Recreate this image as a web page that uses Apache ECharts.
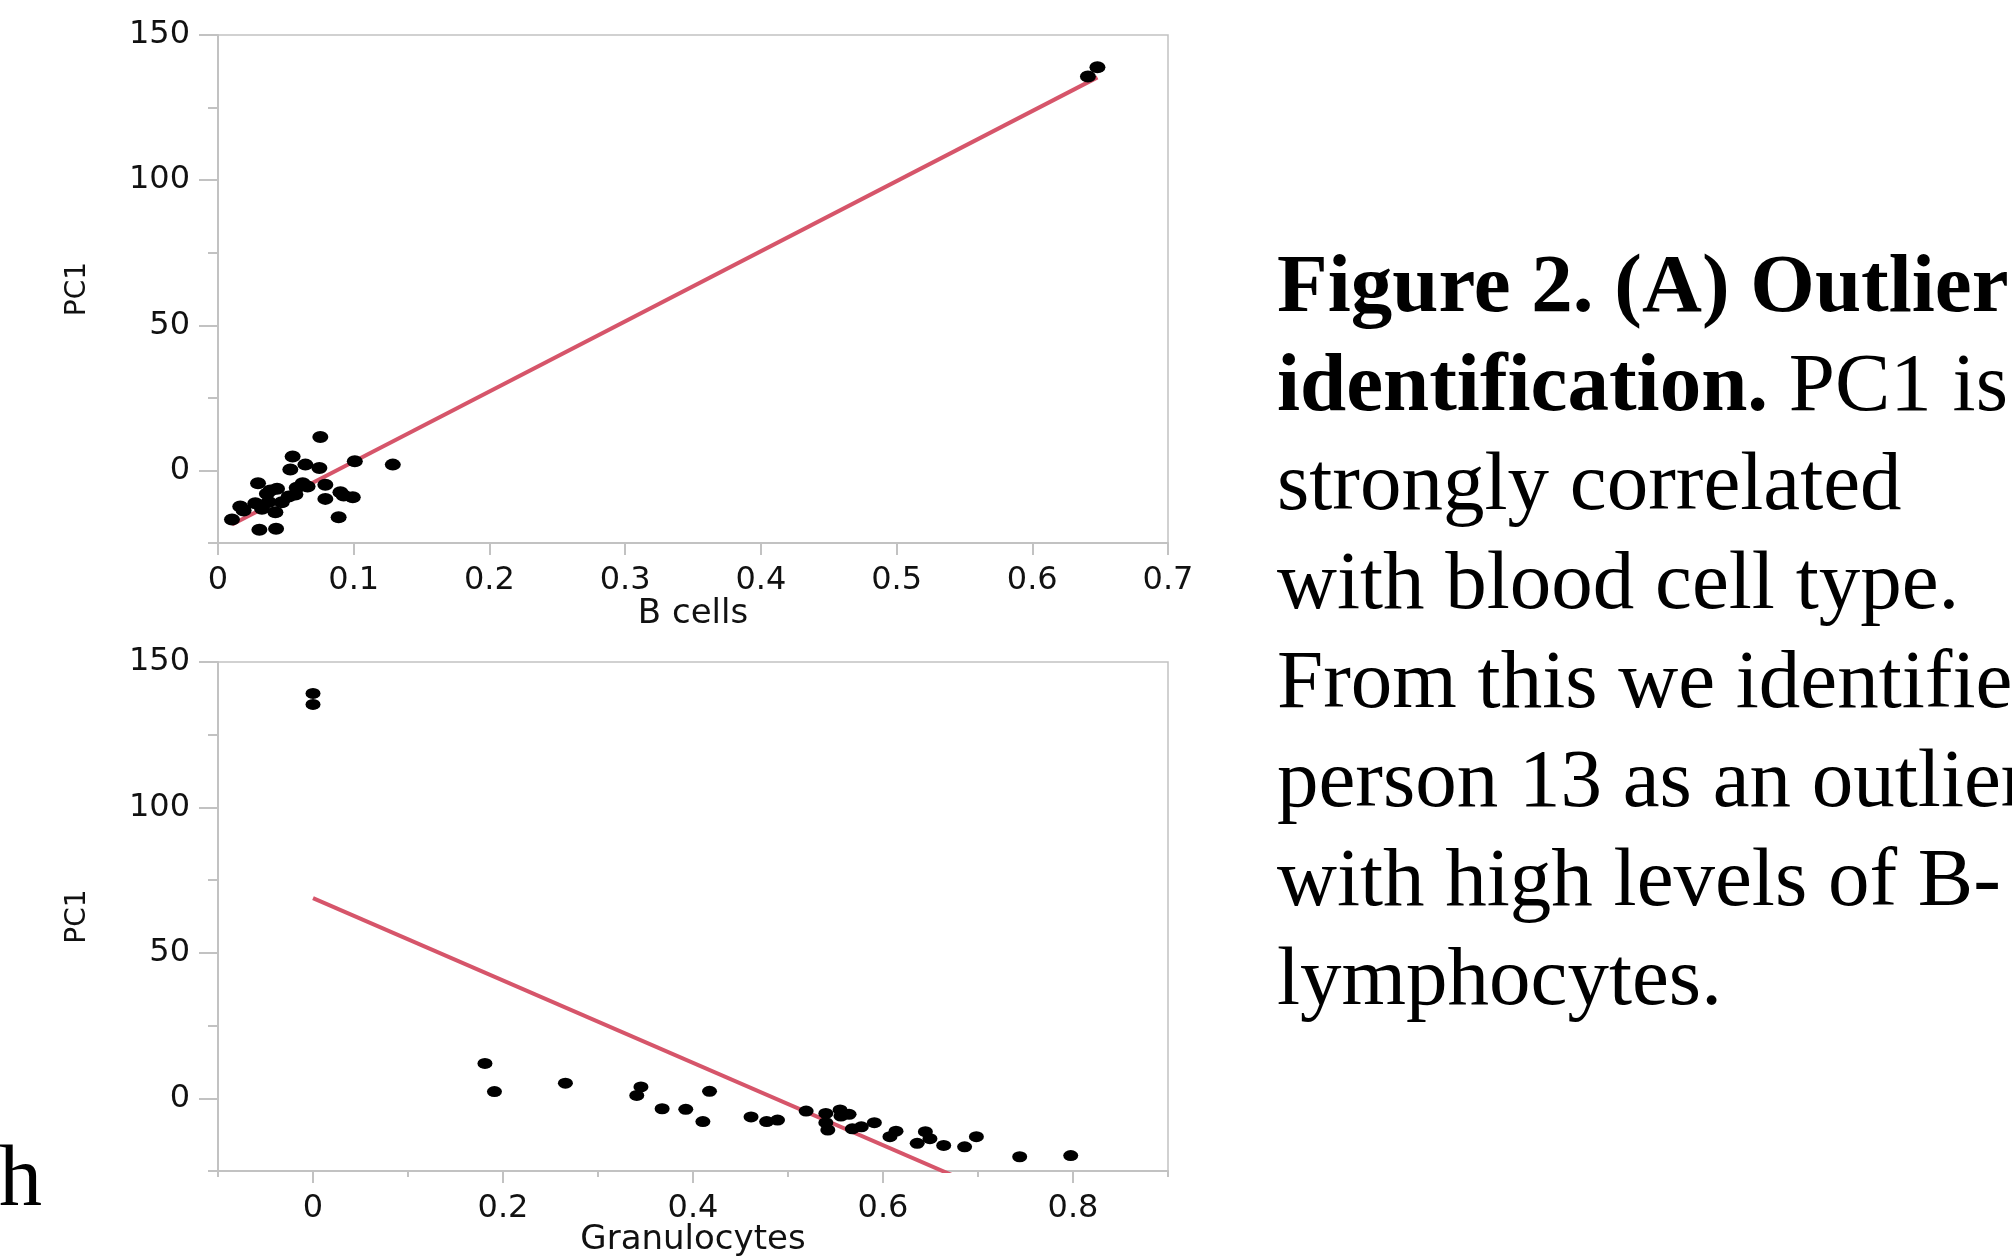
<!DOCTYPE html>
<html>
<head>
<meta charset="utf-8">
<script src="https://cdn.jsdelivr.net/npm/echarts@6/dist/echarts.min.js"></script>
<style>
html,body{margin:0;padding:0;background:#fff;}
#chart{width:2012px;height:1259px;}
</style>
</head>
<body>
<div id="chart"></div>
<script>
// ---------- data ----------
const bCellsX = [0.0754,0.055,0.0533,0.0644,0.0747,0.1008,0.1288,0.0295,0.0386,0.0435,0.0624,0.057,0.0521,0.0791,0.0791,0.0902,0.0993,0.0926,0.0164,0.0275,0.0373,0.0423,0.0324,0.0103,0.0305,0.0428,0.0889,0.0189,0.058,0.047,0.036,0.066,0.641,0.648];
const bCellsPC1 = [11.5,4.8,0.3,2.0,0.8,3.2,2.0,-4.4,-6.9,-6.3,-4.4,-8.3,-9.0,-4.9,-9.8,-7.5,-9.2,-8.6,-12.4,-11.3,-10.9,-14.4,-13.2,-16.9,-20.4,-20.1,-16.1,-13.8,-6.0,-11.0,-8.0,-5.5,135.7,138.9];
const granX = [0.181,0.191,0.2657,0.3452,0.3408,0.4174,0.3675,0.3924,0.4104,0.4611,0.4775,0.489,0.5191,0.5398,0.5548,0.5643,0.5557,0.5398,0.5419,0.5677,0.5772,0.5909,0.6137,0.6073,0.6446,0.6494,0.636,0.6639,0.6859,0.6983,0.7439,0.7976,0.0,0.0];
const granPC1 = [12.0,2.3,5.2,3.9,1.0,2.4,-3.6,-3.8,-8.0,-6.4,-8.0,-7.5,-4.4,-5.2,-4.0,-5.5,-6.1,-8.4,-10.9,-10.5,-9.8,-8.4,-11.3,-13.2,-11.5,-13.9,-15.5,-16.2,-16.7,-13.2,-20.1,-19.7,139.2,135.4];
const fitBX = [0.0103, 0.648];
const fitBY = [-18.6, 135.4];
const fitGX = [0.0, 0.7976];
const fitGY = [68.8, -44.1];
const yMajorTicks = [0, 50, 100, 150];
const yMinorTicks = [-25, 25, 75, 125];
const xTopTicks = [0, 0.1, 0.2, 0.3, 0.4, 0.5, 0.6, 0.7];
const xBotMajorTicks = [0, 0.2, 0.4, 0.6, 0.8];
const xBotMinorTicks = [-0.1, 0.1, 0.3, 0.5, 0.7, 0.9];
const captionLines = [
  '{b|Figure 2. (A) Outlier}',
  '{b|identification.}{r| PC1 is}',
  '{r|strongly correlated}',
  '{r|with blood cell type.}',
  '{r|From this we identified}',
  '{r|person 13 as an outlier}',
  '{r|with high levels of B-}',
  '{r|lymphocytes.}'
];

// ---------- styling helpers ----------
const FRAME = '#c2c2c2';
const LABEL_FONT = 'DejaVu Sans';
const LABEL_SIZE = 32;
const TEXT_COLOR = '#111111';
const FIT_COLOR = '#d6556a';

function xAxisPair(gridIndex, min, max, majors, minors, name, nameGap) {
  const main = {
    type: 'value', gridIndex: gridIndex, min: min, max: max, position: 'bottom',
    name: name, nameLocation: 'middle', nameGap: nameGap, nameMoveOverlap: false,
    nameTextStyle: { fontFamily: LABEL_FONT, fontSize: 34, color: TEXT_COLOR },
    axisLine: { show: true, onZero: false, lineStyle: { color: FRAME, width: 2 } },
    axisTick: { show: true, inside: false, length: 12, customValues: majors, lineStyle: { color: FRAME, width: 2 } },
    axisLabel: { show: true, margin: 22, customValues: majors, fontFamily: LABEL_FONT, fontSize: LABEL_SIZE, color: TEXT_COLOR,
      formatter: v => String(Math.round(v * 10) / 10) },
    splitLine: { show: false }
  };
  const axes = [main];
  if (minors) {
    axes.push({
      type: 'value', gridIndex: gridIndex, min: min, max: max, position: 'bottom',
      axisLine: { show: false, onZero: false },
      axisTick: { show: true, inside: false, length: 6, customValues: minors, lineStyle: { color: FRAME, width: 2 } },
      axisLabel: { show: false },
      splitLine: { show: false }
    });
  }
  return axes;
}
function yAxisPair(gridIndex) {
  return [{
    type: 'value', gridIndex: gridIndex, min: -25, max: 150, position: 'left',
    name: 'PC1', nameLocation: 'middle', nameGap: 126, nameRotate: 90, nameMoveOverlap: false,
    nameTextStyle: { fontFamily: LABEL_FONT, fontSize: 28, color: TEXT_COLOR },
    axisLine: { show: true, onZero: false, lineStyle: { color: FRAME, width: 2 } },
    axisTick: { show: true, inside: false, length: 19, customValues: yMajorTicks, lineStyle: { color: FRAME, width: 2 } },
    axisLabel: { show: true, margin: 28, customValues: yMajorTicks, fontFamily: LABEL_FONT, fontSize: LABEL_SIZE, color: TEXT_COLOR },
    splitLine: { show: false }
  }, {
    type: 'value', gridIndex: gridIndex, min: -25, max: 150, position: 'left',
    axisLine: { show: false, onZero: false },
    axisTick: { show: true, inside: false, length: 10, customValues: yMinorTicks, lineStyle: { color: FRAME, width: 2 } },
    axisLabel: { show: false },
    splitLine: { show: false }
  }];
}
function pairs(xs, ys) { return xs.map((x, i) => [x, ys[i]]); }

const topX = xAxisPair(0, 0, 0.7, xTopTicks, null, 'B cells', 54);
const botX = xAxisPair(1, -0.1, 0.9, xBotMajorTicks, xBotMinorTicks, 'Granulocytes', 52);
const xAxes = topX.concat(botX);           // indices: 0 top, 1 bottom main, 2 bottom minor
const yAxes = yAxisPair(0).concat(yAxisPair(1)); // 0 top main, 1 top minor, 2 bottom main, 3 bottom minor

const chart = echarts.init(document.getElementById('chart'), null, { renderer: 'canvas' });
chart.setOption({
  backgroundColor: '#ffffff',
  animation: false,
  grid: [
    { left: 218, top: 35, width: 950, height: 508, show: true, borderColor: FRAME, borderWidth: 1.5, backgroundColor: 'transparent', outerBoundsMode: 'none', containLabel: false },
    { left: 218, top: 662, width: 950, height: 509, show: true, borderColor: FRAME, borderWidth: 1.5, backgroundColor: 'transparent', outerBoundsMode: 'none', containLabel: false }
  ],
  xAxis: xAxes,
  yAxis: yAxes,
  series: [
    { type: 'line', xAxisIndex: 0, yAxisIndex: 0, data: pairs(fitBX, fitBY), showSymbol: false, symbol: 'none',
      lineStyle: { color: FIT_COLOR, width: 4 }, clip: true, z: 2 },
    { type: 'scatter', xAxisIndex: 0, yAxisIndex: 0, data: pairs(bCellsX, bCellsPC1), symbol: 'circle', symbolSize: [16, 12],
      itemStyle: { color: '#000000', opacity: 1 }, z: 3 },
    { type: 'line', xAxisIndex: 1, yAxisIndex: 2, data: pairs(fitGX, fitGY), showSymbol: false, symbol: 'none',
      lineStyle: { color: FIT_COLOR, width: 4 }, clip: true, z: 2 },
    { type: 'scatter', xAxisIndex: 1, yAxisIndex: 2, data: pairs(granX, granPC1), symbol: 'circle', symbolSize: [15, 11],
      itemStyle: { color: '#000000', opacity: 1 }, z: 3 }
  ],
  graphic: [
    { type: 'text', x: 1277, y: 240, z: 10,
      style: {
        text: captionLines.join('\n'),
        fill: '#000',
        rich: {
          b: { fontFamily: 'Liberation Serif', fontWeight: 'bold', fontSize: 83, lineHeight: 99, fill: '#000' },
          r: { fontFamily: 'Liberation Serif', fontWeight: 'normal', fontSize: 83, lineHeight: 99, fill: '#000' }
        }
      } },
    { type: 'text', x: -1, y: 1139, z: 10,
      style: { text: 'h', fontFamily: 'Liberation Serif', fontSize: 86, fill: '#000' } }
  ]
});
</script>
</body>
</html>
